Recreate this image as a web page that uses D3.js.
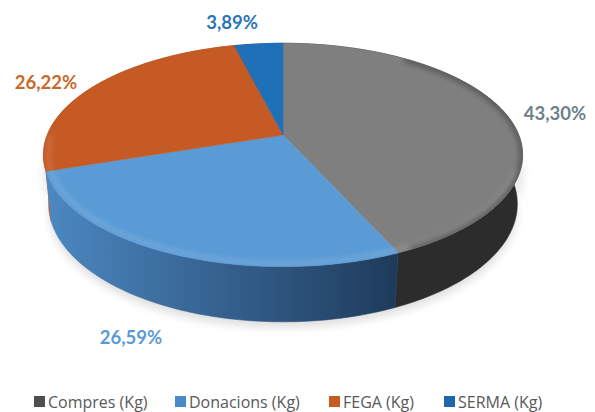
<!DOCTYPE html>
<html><head><meta charset="utf-8">
<script src="https://cdn.jsdelivr.net/npm/d3@7"></script>
<style>html,body{margin:0;padding:0;background:#fff;}svg{display:block;}</style>
</head><body>
<svg id="c" width="595" height="412"></svg>
<script>
const categories = ["Compres (Kg)", "Donacions (Kg)", "FEGA (Kg)", "SERMA (Kg)"];
const values = [43.30, 26.59, 26.22, 3.89];
const percentLabels = ["43,30%", "26,59%", "26,22%", "3,89%"];

const topColors  = ["#7f7f7f", "#5b9bd5", "#c55a24", "#2070b8"];
const sideLight  = ["#3a3a3a", "#4c88c2", "#b8531f", "#1c62a4"];
const sideDark   = ["#2c2c2c", "#1e3a5a", "#7a3510", "#143f6a"];
const labelColors= ["#6f7f8b", "#5b9bd5", "#c8692b", "#2e75b6"];
const legendColors=["#4f4f4f", "#4a8ac8", "#c55a24", "#1f66ad"];
const labelPos = [[555,113],[131,337],[46,82],[232,22]];

const svg = d3.select("#c");
const defs = svg.append("defs");

// perspective projection params
const cx = 283, cy = 135, e = 27.3*Math.PI/180, D = 4.98, f = 1174, h = 0.236;
const cs = Math.cos(e), sn = Math.sin(e);
function proj(a, y, r=1){
  const x = r*Math.sin(a), z = -r*Math.cos(a);
  const d = D - (z*cs + y*sn);
  const v = y*cs - z*sn;
  return [cx + f*x/d, cy - f*v/d];
}
function arcPts(a0, a1, y, r=1){
  const n = Math.max(2, Math.ceil(Math.abs(a1-a0)/0.02));
  return d3.range(n+1).map(i => proj(a0 + (a1-a0)*i/n, y, r));
}
const line = d3.line();

const pie = d3.pie().sort(null).startAngle(0).endAngle(2*Math.PI);
const arcs = pie(values);

// filters
const blur = defs.append("filter").attr("id","blur").attr("x","-20%").attr("y","-20%").attr("width","140%").attr("height","140%");
blur.append("feGaussianBlur").attr("stdDeviation",4);
const blur2 = defs.append("filter").attr("id","blur2").attr("x","-20%").attr("y","-20%").attr("width","140%").attr("height","140%");
blur2.append("feGaussianBlur").attr("stdDeviation",2.5);

// gradients for walls
arcs.forEach((d,i)=>{
  const g = defs.append("linearGradient").attr("id","wg"+i)
    .attr("gradientUnits","userSpaceOnUse").attr("x1",45).attr("x2",400).attr("y1",0).attr("y2",0);
  g.append("stop").attr("offset","0%").attr("stop-color",sideLight[i]);
  g.append("stop").attr("offset","100%").attr("stop-color",sideDark[i]);
});

// shadow
const full = arcPts(Math.PI/2, 3*Math.PI/2, -h).map(p=>[p[0], p[1]+6]);
svg.append("path").attr("d", line(full.concat(arcPts(3*Math.PI/2, Math.PI/2, 0).map(p=>[p[0],p[1]+20]))))
  .attr("fill","#000").attr("opacity",0.12).attr("filter","url(#blur)");

// walls, back to front
const order = arcs.map((d,i)=>i).sort((a,b)=>{
  const ma=(arcs[a].startAngle+arcs[a].endAngle)/2, mb=(arcs[b].startAngle+arcs[b].endAngle)/2;
  return (-Math.cos(ma)) - (-Math.cos(mb));
});
const gWalls = svg.append("g");
order.forEach(i=>{
  const d = arcs[i];
  const pts = arcPts(d.startAngle, d.endAngle, 0).concat(arcPts(d.endAngle, d.startAngle, -h));
  gWalls.append("path").attr("d", line(pts)+"Z").attr("fill","url(#wg"+i+")")
    .attr("stroke","url(#wg"+i+")").attr("stroke-width",0.6);
});

// top faces
const gTop = svg.append("g");
arcs.forEach((d,i)=>{
  const pts = [proj(0,0,0)].concat(arcPts(d.startAngle, d.endAngle, 0));
  gTop.append("path").attr("d", line(pts)+"Z").attr("fill", topColors[i])
    .attr("stroke", topColors[i]).attr("stroke-width",0.6);
});
// bevel shading on top face rim
defs.append("clipPath").attr("id","topclip").append("path")
  .attr("d", line(arcPts(0,2*Math.PI,0))+"Z");
const bev = svg.append("g").attr("clip-path","url(#topclip)");
bev.append("path").attr("d", line(arcPts(Math.PI*0.2,Math.PI*0.85,0))).attr("fill","none")
  .attr("stroke","#000").attr("stroke-opacity",0.25).attr("stroke-width",8).attr("filter","url(#blur2)");
bev.append("path").attr("d", line(arcPts(Math.PI*0.6,Math.PI*1.5,0,0.98))).attr("fill","none")
  .attr("stroke","#fff").attr("stroke-opacity",0.22).attr("stroke-width",2.5).attr("filter","url(#blur2)");

// labels
svg.append("g").selectAll("text").data(arcs).join("text")
  .attr("x",(d,i)=>labelPos[i][0]).attr("y",(d,i)=>labelPos[i][1])
  .attr("text-anchor","middle").attr("dominant-baseline","central")
  .attr("font-family","Lato, 'Open Sans', sans-serif").attr("font-weight","bold").attr("font-size",18.5)
  .attr("fill",(d,i)=>labelColors[i]).text((d,i)=>percentLabels[i]);

// legend
const legX = [34, 175, 329, 444];
const leg = svg.append("g");
categories.forEach((c,i)=>{
  leg.append("rect").attr("x",legX[i]).attr("y",396).attr("width",11).attr("height",11).attr("fill",legendColors[i]);
  leg.append("text").attr("x",legX[i]+14).attr("y",402).attr("dominant-baseline","central")
    .attr("font-family","'Open Sans', sans-serif").attr("font-size",16).attr("fill","#595959").text(c);
});
</script>
</body></html>
